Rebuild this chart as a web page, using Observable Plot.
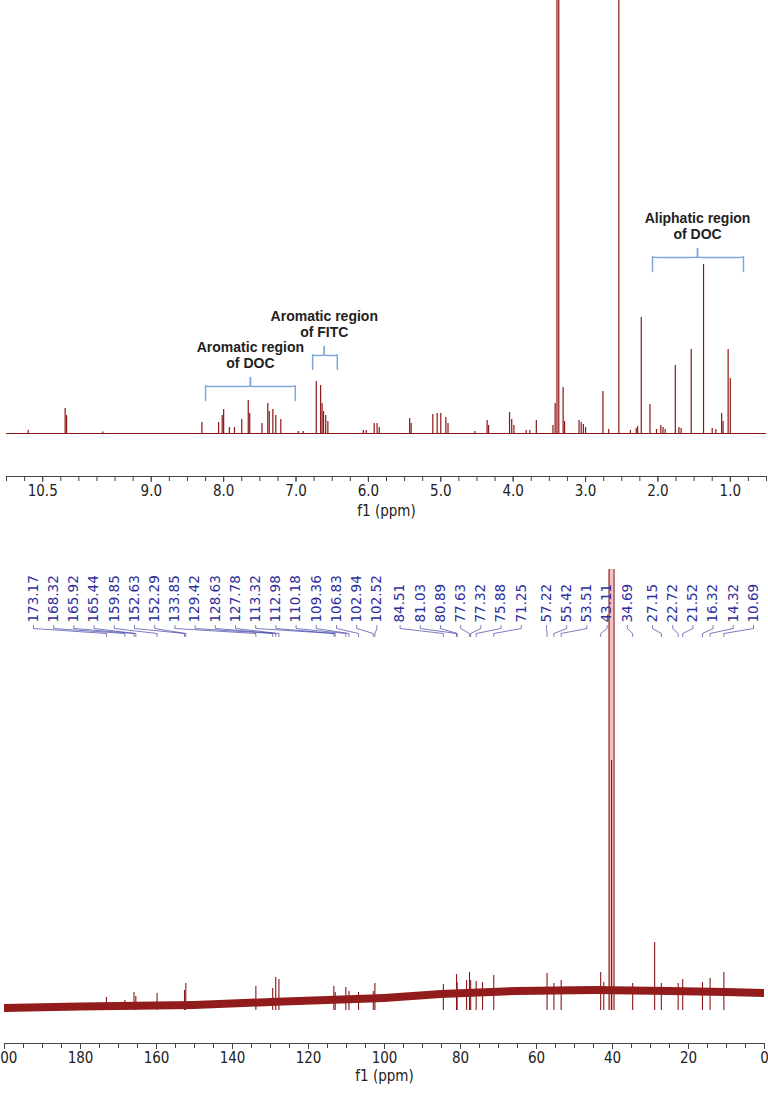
<!DOCTYPE html>
<html><head><meta charset="utf-8">
<script src="https://cdn.jsdelivr.net/npm/d3@7"></script>
<script src="https://cdn.jsdelivr.net/npm/@observablehq/plot@0.6"></script>
<style>
html,body{margin:0;padding:0;background:#fff;}
#chart{width:768px;}
#chart svg{display:block;}
</style></head><body><div id="chart"></div>
<script>
// ---------- 1H spectrum (ppm, relative intensity) ----------
const hPpm = [10.70,10.19,10.17,9.67,8.30,8.07,8.02,8.00,7.92,7.85,7.75,7.66,7.64,7.47,7.39,7.37,7.32,7.28,7.21,6.97,6.90,6.72,6.66,6.64,6.62,6.59,6.56,6.07,6.03,5.92,5.88,5.85,5.43,5.41,5.11,5.05,5.00,4.93,4.90,4.53,4.36,4.34,4.05,4.02,3.99,3.82,3.77,3.68,3.45,3.42,3.395,3.37,3.31,3.29,3.09,3.06,3.03,3.00,2.76,2.68,2.54,2.38,2.30,2.28,2.23,2.11,2.02,1.96,1.93,1.90,1.76,1.71,1.68,1.54,1.37,1.25,1.20,1.12,1.10,1.03,1.00];
const hInt = [3,25,18,1.5,11,11,18,24,6,6,14,33,20,10,30,22,24,18,14,2,2,52,48,30,22,18,12,3,3,10,10,6,15,10,19,20,20,16,10,2,13,8,21,14,8,3,3,13,8,30,900,900,46,12,13,11,9,6,42,4,900,3,5,7,116,29,4,8,6,4,68,6,5,84,169,5,4,20,12,84,55];
const hTickLabels = [10.5,9,8,7,6,5,4,3,2,1];

// region annotations (1H)
const annText  = ["Aromatic region\nof DOC","Aromatic region\nof FITC","Aliphatic region\nof DOC"];
const annFrom  = [8.25, 6.77, 2.075];
const annTo    = [7.01, 6.43, 0.818];
const annMid   = [7.63, 6.61, 1.453];
const annLevel = [47, 78, 176];

// ---------- 13C spectrum ----------
const c13Ppm = [173.17,168.32,165.92,165.44,159.85,152.63,152.29,133.85,129.42,128.63,127.78,113.32,112.98,110.18,109.36,106.83,102.94,102.52,84.51,81.03,80.89,78.40,77.63,77.32,75.88,74.20,71.25,57.22,55.42,53.51,43.11,42.30,34.69,28.90,27.15,22.72,21.52,16.32,14.32,10.69];
const c13Top = [13,10,18,14,17,20,27,24,22,33,31,24,18,23,19,18,19,27,26,36,28,30,38,30,29,28,35,37,27,30,38,28,27,68,27,27,31,28,32,38];
const dmsoPpm = [40.90, 40.25, 39.60];
const dmsoTop = [2000, 250, 2000];
const c13Labels = ["173.17","168.32","165.92","165.44","159.85","152.63","152.29","133.85","129.42","128.63","127.78","113.32","112.98","110.18","109.36","106.83","102.94","102.52","84.51","81.03","80.89","77.63","77.32","75.88","71.25","57.22","55.42","53.51","43.11","34.69","27.15","22.72","21.52","16.32","14.32","10.69"];
const noisePpm  = [200,180,150,130,100,85,65,45,25,10,0];
const noiseLow  = [-2,-0.5,1,4,8,12,15,16,15,14,13];
const noiseHigh = [6,7.5,9,12,16,20,23,24,23,22,21];
const cTickLabels = [200,180,160,140,120,100,80,60,40,20,0];

// ---------- styles ----------
const RED = "#8c1616";
const NAVY = "#2f2f9c";
const BLUE = "#7fa7d9";
const AXIS_FONT = "'Liberation Sans Narrow','DejaVu Sans Condensed','Liberation Sans',sans-serif";

// ---------- top plot ----------
const hPeaks = hPpm.map((p, i) => ({ppm: p, h: hInt[i]}));
const braces = [];
annFrom.forEach((x1, k) => {
  const x2 = annTo[k], xc = annMid[k], yt = annLevel[k], ye = yt - 14, ytip = yt + 9, d = 0.04;
  const L = [[x1,ye],[x1,ye],[x1,yt+2],[x1,yt],[x1-d,yt],[xc+d,yt],[xc,yt],[xc,yt+2],[xc,ytip],[xc,ytip]];
  const R = [[x2,ye],[x2,ye],[x2,yt+2],[x2,yt],[x2+d,yt],[xc-d,yt],[xc,yt],[xc,yt+2],[xc,ytip],[xc,ytip]];
  L.forEach(p => braces.push({x: p[0], y: p[1], z: k + "L"}));
  R.forEach(p => braces.push({x: p[0], y: p[1], z: k + "R"}));
});
const anns = annText.map((t, k) => ({t, x: annMid[k], y: annLevel[k] + 32}));
const hMinor = d3.range(0.5, 11.001, 0.25);

const topPlot = Plot.plot({
  width: 768, height: 522,
  marginTop: 0, marginBottom: 46, marginLeft: 6, marginRight: 2,
  x: {domain: [11.0, 0.5], axis: null},
  y: {domain: [-43, 433], axis: null},
  style: {fontFamily: AXIS_FONT, fontSize: "15px", color: "#222", background: "#fff"},
  marks: [
    Plot.ruleY([0], {stroke: RED, strokeWidth: 1}),
    Plot.ruleX(hPeaks, {x: "ppm", y1: 0, y2: "h", stroke: RED, strokeWidth: 1.2, clip: true}),
    Plot.line(braces, {x: "x", y: "y", z: "z", curve: "basis", stroke: BLUE, strokeWidth: 1.5}),
    Plot.text(anns, {x: "x", y: "y", text: "t", fontFamily: "'Liberation Sans',Arial,sans-serif", fontWeight: "bold", fontSize: 14, lineHeight: 1.15, fill: "#222"}),
    Plot.ruleY([-43], {stroke: "#444", strokeWidth: 1}),
    Plot.axisX(hMinor, {tickSize: 5, tickFormat: () => "", stroke: "#444"}),
    Plot.axisX(hTickLabels, {tickSize: 6, tickPadding: 3, tickFormat: d3.format(".1f"), stroke: "#444", fontSize: 15, fill: "#222"}),
    Plot.text(["f1 (ppm)"], {frameAnchor: "bottom", dy: 39, fontSize: 15, fill: "#222"})
  ]
});

// ---------- bottom plot ----------
const xs = d3.scaleLinear([200, 0], [4, 764]);
const slotStart = 33, slotStep = 20.2, gapAfter = {17: 3, 24: 5, 29: 5};
let px = slotStart;
const labels = c13Labels.map((s, i) => {
  if (i > 0) px += slotStep + (gapAfter[i - 1] || 0);
  return {text: s, x: xs.invert(px), peak: +s};
});
const connectors = [];
labels.forEach((l, i) => {
  connectors.push({x: l.x, y: 385, z: i}, {x: l.x, y: 382, z: i}, {x: l.peak, y: 377, z: i}, {x: l.peak, y: 374, z: i});
});
const cPeaks = c13Ppm.map((p, i) => ({ppm: p, top: c13Top[i]}));
const dmso = dmsoPpm.map((p, i) => ({ppm: p, top: dmsoTop[i]}));
const noise = noisePpm.map((p, i) => ({ppm: p, lo: noiseLow[i], hi: noiseHigh[i]}));
const cMinor = d3.range(0, 200.001, 5);

const botPlot = Plot.plot({
  width: 768, height: 571,
  marginTop: 47, marginBottom: 50, marginLeft: 4, marginRight: 4,
  x: {domain: [200, 0], axis: null},
  y: {domain: [-33, 441], axis: null},
  style: {fontFamily: AXIS_FONT, fontSize: "15px", color: "#222", background: "#fff"},
  marks: [
    Plot.rect([dmso], {x1: d => d3.max(d, e => e.ppm), x2: d => d3.min(d, e => e.ppm), y1: 0, y2: d => d3.max(d, e => e.top), fill: "#f0c4c4", clip: true}),
    Plot.ruleX(dmso, {x: "ppm", y1: 0, y2: "top", stroke: RED, strokeWidth: 1.1, clip: true}),
    Plot.ruleX(cPeaks, {x: "ppm", y1: 0, y2: "top", stroke: RED, strokeWidth: 1.1, clip: true}),
    Plot.areaY(noise, {x: "ppm", y1: "lo", y2: "hi", fill: "#921c1c"}),
    Plot.line(connectors, {x: "x", y: "y", z: "z", stroke: NAVY, strokeWidth: 0.8, strokeOpacity: 0.8}),
    Plot.text(labels, {x: "x", text: "text", frameAnchor: "top", dy: 53, rotate: -90, textAnchor: "start", lineAnchor: "middle", fontFamily: "'DejaVu Sans',Verdana,sans-serif", fontSize: 13.5, fill: NAVY}),
    Plot.ruleY([-33], {stroke: "#444", strokeWidth: 1}),
    Plot.axisX(cMinor, {tickSize: 5, tickFormat: () => "", stroke: "#444"}),
    Plot.axisX(cTickLabels, {tickSize: 6, tickPadding: 3, tickFormat: d3.format("d"), stroke: "#444", fontSize: 15, fill: "#222"}),
    Plot.text(["f1 (ppm)"], {frameAnchor: "bottom", dy: 37, fontSize: 15, fill: "#222"})
  ]
});

const root = document.getElementById("chart");
root.appendChild(topPlot);
root.appendChild(botPlot);
</script>
</body></html>
